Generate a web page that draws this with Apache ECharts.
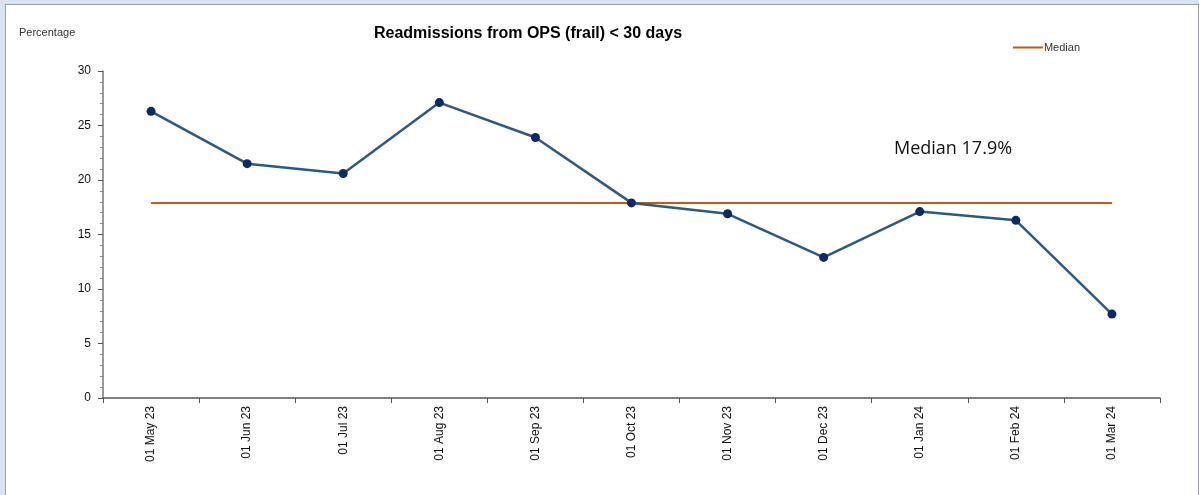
<!DOCTYPE html>
<html>
<head>
<meta charset="utf-8">
<script src="https://cdn.jsdelivr.net/npm/echarts@6/dist/echarts.min.js"></script>
<style>
  html, body { margin: 0; padding: 0; background: #dbe3f1; }
  #frame { position: absolute; left: 5px; top: 4px; width: 1192px; height: 495px; background: #fff; border: 1px solid #9a9ea6; border-bottom: none; }
  #main { position: absolute; left: -6px; top: -5px; width: 1199px; height: 495px; }
</style>
</head>
<body>
<div id="frame"><div id="main"></div></div>
<script>
var myChart = echarts.init(document.getElementById("main"));

var months = ['01 May 23', '01 Jun 23', '01 Jul 23', '01 Aug 23', '01 Sep 23', '01 Oct 23',
              '01 Nov 23', '01 Dec 23', '01 Jan 24', '01 Feb 24', '01 Mar 24'];
var rates = [26.3, 21.5, 20.6, 27.1, 23.9, 17.9, 16.9, 12.9, 17.1, 16.3, 7.7];
var medianValue = 17.9;
var medianLine = months.map(function () { return medianValue; });

var option = {
    backgroundColor: 'transparent',
    animation: false,
    title: {
        text: 'Readmissions from OPS (frail) < 30 days',
        left: 523,
        textAlign: 'center',
        top: 21,
        textStyle: { fontFamily: 'Liberation Sans', fontSize: 16, fontWeight: 'bold', color: '#000' }
    },
    legend: {
        data: [{ name: 'Median' }],
        right: 114,
        top: 37,
        itemWidth: 30,
        itemHeight: 2,
        itemGap: 2,
        icon: 'rect',
        textStyle: { fontFamily: 'Liberation Sans', fontSize: 11, color: '#333', padding: [0, 0, 0, -4] }
    },
    graphic: [
        {
            type: 'text', left: 19, top: 27,
            style: { text: 'Percentage', fontFamily: 'Liberation Sans', fontSize: 11, fill: '#333' }
        },
        {
            type: 'text', left: 894, top: 140,
            style: { text: 'Median 17.9%', fontFamily: 'Open Sans', fontSize: 18, fill: '#111' }
        }
    ],
    grid: { left: 103, right: 39, top: 71, bottom: 97 },
    xAxis: {
        type: 'category',
        data: months,
        boundaryGap: true,
        axisLine: { lineStyle: { color: '#555', width: 1.5 } },
        axisTick: { show: true, length: 5, lineStyle: { color: '#555' } },
        axisLabel: { rotate: 90, fontFamily: 'Liberation Sans', fontSize: 12, color: '#111', margin: 8 }
    },
    yAxis: {
        type: 'value',
        min: 0,
        max: 30,
        interval: 5,
        axisLine: { show: true, lineStyle: { color: '#777', width: 1.5 } },
        axisTick: { show: true, inside: false, length: 5, lineStyle: { color: '#555' } },
        minorTick: { show: true, splitNumber: 5, length: 3, lineStyle: { color: '#888' } },
        splitLine: { show: false },
        axisLabel: { fontFamily: 'Liberation Sans', fontSize: 12, color: '#111', margin: 12 }
    },
    series: [
        {
            name: 'Rate',
            type: 'line',
            data: rates,
            symbol: 'circle',
            symbolSize: 9,
            lineStyle: { color: '#2c5a85', width: 2.5 },
            itemStyle: { color: '#0b2a66' },
            z: 3
        },
        {
            name: 'Median',
            type: 'line',
            data: medianLine,
            symbol: 'none',
            lineStyle: { color: '#c65911', width: 2 },
            itemStyle: { color: '#c65911' },
            z: 2
        }
    ]
};
myChart.setOption(option);
</script>
</body>
</html>
